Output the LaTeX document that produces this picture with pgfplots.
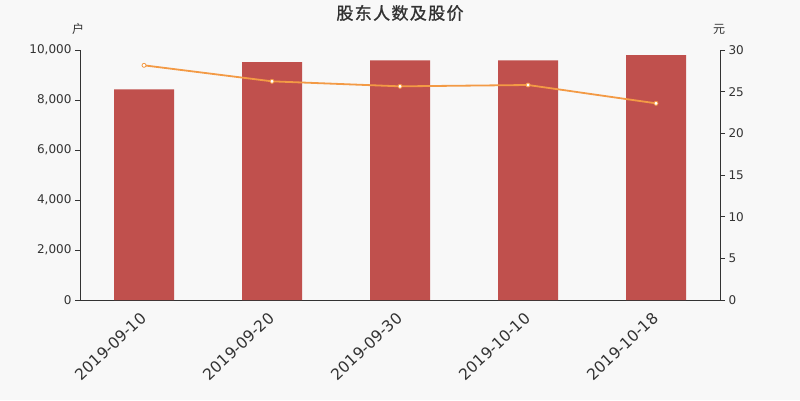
\documentclass[border=0pt]{standalone}
\usepackage{pgfplots}
\pgfplotsset{compat=1.18}
\usepackage{fontspec}
\setmainfont{DejaVu Sans}
\newfontfamily\cjk{Noto Sans CJK SC}
\newfontfamily\cjkt[LetterSpace=8, FakeBold=1.2]{Noto Sans CJK SC}
\definecolor{bg}{HTML}{F8F8F8}
\definecolor{barc}{HTML}{C0504D}
\definecolor{linec}{HTML}{F39A45}
\definecolor{txt}{HTML}{333333}
\begin{document}
\begin{tikzpicture}[x=1pt,y=1pt]
\fill[bg] (0,0) rectangle (800,400);
\node[txt,font=\cjkt\fontsize{17}{19}\selectfont] at (400,387) {股东人数及股价};
\node[txt,font=\cjk\fontsize{12}{14}\selectfont] at (78,371) {户};
\node[txt,font=\cjk\fontsize{12}{14}\selectfont] at (719,371) {元};
\begin{axis}[
  at={(80pt,100pt)}, anchor=south west,
  scale only axis, width=640pt, height=250pt,
  xmin=0.5, xmax=5.5, ymin=0, ymax=10000,
  axis x line*=bottom, axis y line*=left,
  axis line style={txt, line width=0.8pt, -},
  xtick={1,2,3,4,5},
  xticklabels={2019-09-10,2019-09-20,2019-09-30,2019-10-10,2019-10-18},
  x tick label style={rotate=43, anchor=north east, font=\fontsize{15.5}{18}\selectfont, txt, xshift=-4pt, yshift=2pt},
  extra x ticks={0.5,1.5,2.5,3.5,4.5,5.5},
  extra x tick labels={},
  extra x tick style={major tick length=5pt, tick style={txt, line width=0.8pt}},
  tick align=outside,
  x tick style={draw=none},
  ytick={0,2000,4000,6000,8000,10000},
  y tick style={txt, line width=0.8pt},
  major tick length=5pt,
  y tick label style={font=\fontsize{12}{14}\selectfont, txt},
  /pgf/number format/1000 sep={,},
  /pgf/number format/assume math mode=true,
  scaled y ticks=false,
]
\addplot[ybar, bar width=60pt, fill=barc, draw=none] coordinates {
  (1,8430) (2,9520) (3,9590) (4,9590) (5,9800)
};
\end{axis}
\begin{axis}[
  at={(80pt,100pt)}, anchor=south west,
  scale only axis, width=640pt, height=250pt,
  xmin=0.5, xmax=5.5, ymin=0, ymax=30,
  axis x line=none, axis y line*=right,
  axis line style={txt, line width=0.8pt, -},
  ytick={0,5,10,15,20,25,30},
  tick align=outside, major tick length=5pt,
  y tick style={txt, line width=0.8pt},
  y tick label style={font=\fontsize{12}{14}\selectfont, txt},
  /pgf/number format/assume math mode=true,
]
\addplot[linec, line width=1.8pt, mark=*, mark size=2pt,
  mark options={fill=white, draw=linec, line width=0.8pt}] coordinates {
  (1,28.16) (2,26.24) (3,25.64) (4,25.80) (5,23.60)
};
\end{axis}
\end{tikzpicture}
\end{document}
